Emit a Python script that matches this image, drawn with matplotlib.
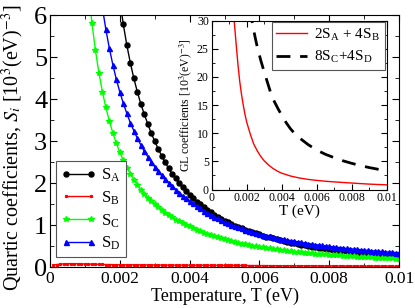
import numpy as np
import matplotlib
matplotlib.use("Agg")
import matplotlib.pyplot as plt
from matplotlib.ticker import MultipleLocator, FixedLocator

plt.rcParams['font.family'] = ['Liberation Serif', 'DejaVu Serif']
plt.rcParams['mathtext.fontset'] = 'stix'

# Temperature grid of the main plot, in eV (step 0.0001 eV)
temp_b = np.arange(1, 101) * 1e-4
temp_a = np.arange(20, 101) * 1e-4
temp_c = np.arange(11, 101) * 1e-4
temp_d = np.arange(15, 101) * 1e-4

# Quartic coefficients, in 10^3 (eV)^-3
s_a = [6.35, 5.78, 5.29, 4.87, 4.50, 4.18, 3.89, 3.64, 3.41, 3.19,
       3.00, 2.81, 2.65, 2.49, 2.35, 2.22, 2.11, 2.00, 1.90, 1.80,
       1.72, 1.64, 1.56, 1.49, 1.42, 1.363, 1.305, 1.251, 1.200, 1.153,
       1.108, 1.066, 1.026, 0.988, 0.953, 0.919, 0.887, 0.857, 0.828, 0.801,
       0.775, 0.750, 0.727, 0.704, 0.683, 0.663, 0.641, 0.621, 0.601, 0.582,
       0.565, 0.548, 0.531, 0.515, 0.500, 0.486, 0.472, 0.459, 0.446, 0.434,
       0.422, 0.411, 0.400, 0.390, 0.380, 0.370, 0.361, 0.352, 0.343, 0.335,
       0.327, 0.319, 0.312, 0.305, 0.298, 0.291, 0.284, 0.278, 0.272, 0.266,
       0.260]

s_b = [0.050, 0.060, 0.070, 0.075, 0.080, 0.080, 0.080, 0.078, 0.075, 0.072,
       0.070, 0.068, 0.066, 0.064, 0.062, 0.060, 0.058, 0.056, 0.055, 0.054,
       0.053, 0.053, 0.052, 0.052, 0.051, 0.051, 0.050, 0.050, 0.049, 0.049,
       0.048, 0.048, 0.047, 0.047, 0.046, 0.046, 0.046, 0.045, 0.045, 0.045,
       0.044, 0.044, 0.043, 0.043, 0.042, 0.042, 0.041, 0.041, 0.040, 0.040,
       0.039, 0.039, 0.038, 0.038, 0.037, 0.037, 0.036, 0.036, 0.035, 0.035,
       0.034, 0.034, 0.033, 0.033, 0.032, 0.032, 0.031, 0.031, 0.030, 0.030,
       0.030, 0.029, 0.029, 0.029, 0.028, 0.028, 0.028, 0.027, 0.027, 0.027,
       0.026, 0.026, 0.026, 0.025, 0.025, 0.025, 0.024, 0.024, 0.024, 0.023,
       0.023, 0.023, 0.022, 0.022, 0.022, 0.021, 0.021, 0.021, 0.020, 0.020]

s_c = [6.62, 5.82, 5.17, 4.63, 4.18, 3.80, 3.48, 3.19, 2.95, 2.73,
       2.54, 2.37, 2.22, 2.08, 1.96, 1.84, 1.74, 1.65, 1.57, 1.49,
       1.42, 1.35, 1.29, 1.23, 1.18, 1.13, 1.09, 1.04, 1.00, 0.966,
       0.926, 0.888, 0.853, 0.820, 0.789, 0.760, 0.732, 0.706, 0.681, 0.658,
       0.636, 0.615, 0.595, 0.577, 0.559, 0.542, 0.525, 0.510, 0.495, 0.481,
       0.467, 0.455, 0.442, 0.430, 0.419, 0.408, 0.398, 0.388, 0.378, 0.369,
       0.360, 0.351, 0.343, 0.335, 0.328, 0.320, 0.313, 0.306, 0.300, 0.293,
       0.287, 0.281, 0.275, 0.270, 0.264, 0.259, 0.254, 0.249, 0.244, 0.239,
       0.235, 0.231, 0.226, 0.222, 0.218, 0.214, 0.210, 0.207, 0.203, 0.200]

s_d = [6.18, 5.66, 5.21, 4.82, 4.47, 4.17, 3.90, 3.66, 3.44, 3.25,
       3.07, 2.91, 2.76, 2.63, 2.51, 2.39, 2.28, 2.18, 2.09, 2.00,
       1.92, 1.84, 1.77, 1.70, 1.64, 1.58, 1.515, 1.454, 1.397, 1.344,
       1.294, 1.246, 1.201, 1.159, 1.119, 1.081, 1.045, 1.012, 0.979, 0.949,
       0.919, 0.892, 0.865, 0.840, 0.816, 0.793, 0.772, 0.751, 0.731, 0.712,
       0.694, 0.677, 0.660, 0.644, 0.629, 0.614, 0.600, 0.586, 0.573, 0.560,
       0.548, 0.536, 0.524, 0.513, 0.502, 0.492, 0.482, 0.472, 0.463, 0.454,
       0.445, 0.436, 0.428, 0.420, 0.412, 0.405, 0.397, 0.390, 0.383, 0.376,
       0.370, 0.363, 0.357, 0.351, 0.345, 0.340]

# Inset: GL coefficients, 10^3 (eV)^-3
temp_ab = [0.00125, 0.0013, 0.0014, 0.0015, 0.0016, 0.0017, 0.0018, 0.0019, 0.0020,
           0.0022, 0.0024, 0.0026, 0.0028, 0.0030, 0.00325, 0.0035, 0.00375, 0.0040,
           0.0045, 0.0050, 0.0055, 0.0060, 0.0065, 0.0070, 0.0075, 0.0080, 0.0085,
           0.0090, 0.0095, 0.0100]
gl_ab = [32.0, 29.5, 25.8, 22.3, 19.3, 17.0, 15.1, 13.4, 12.0,
         9.9, 8.1, 6.9, 5.9, 5.1, 4.35, 3.75, 3.27, 2.90,
         2.40, 2.05, 1.80, 1.62, 1.47, 1.35, 1.25, 1.15, 1.05,
         0.96, 0.89, 0.83]

temp_cd = [0.0022, 0.0023, 0.0024, 0.0025, 0.0026, 0.0028, 0.0030, 0.0032, 0.0034,
           0.0036, 0.0038, 0.0040, 0.00425, 0.0045, 0.00475, 0.0050, 0.0055, 0.0060,
           0.0065, 0.0070, 0.0075, 0.0080, 0.0085, 0.0090, 0.0095, 0.0100]
gl_cd = [32.0, 30.0, 28.3, 26.8, 25.4, 23.0, 20.9, 18.9, 16.9,
         15.5, 14.3, 13.2, 11.9, 10.8, 9.9, 9.2, 8.0, 7.0,
         6.25, 5.65, 5.1, 4.65, 4.25, 3.9, 3.6, 3.3]

x_ticks = [0, 0.002, 0.004, 0.006, 0.008, 0.01]
x_tick_labels = ['0', '0.002', '0.004', '0.006', '0.008', '0.01']

fig = plt.figure(figsize=(4.15, 3.08), dpi=100)
ax = fig.add_axes([0.1205, 0.133, 0.841, 0.818])

ax.plot(temp_a, s_a, '-o', color='black', lw=1, ms=3.6, label='$\\mathregular{S_A}$')
ax.plot(temp_b, s_b, '-s', color='red', lw=1, ms=1.3, label='$\\mathregular{S_B}$')
ax.plot(temp_c, s_c, '-*', color='#00ff00', lw=1, ms=4.2, label='$\\mathregular{S_C}$')
ax.plot(temp_d, s_d, '-^', color='blue', lw=1, ms=3.6, label='$\\mathregular{S_D}$')

ax.set_xlim(0, 0.01)
ax.set_ylim(0, 6)
ax.xaxis.set_major_locator(FixedLocator(x_ticks))
ax.set_xticklabels(x_tick_labels)
ax.xaxis.set_minor_locator(MultipleLocator(0.001))
ax.yaxis.set_major_locator(MultipleLocator(1))
ax.yaxis.set_minor_locator(MultipleLocator(0.5))
ax.tick_params(which='both', direction='in', top=True, right=True)
ax.tick_params(which='major', length=5, pad=3)
ax.tick_params(which='minor', length=3)
ax.tick_params(axis='x', labelsize=12.5)
ax.tick_params(axis='y', labelsize=19, pad=2)

ax.set_xlabel('Temperature, T (eV)', fontsize=13, labelpad=0)
ax.set_ylabel('Quartic coefficients, $S_i$ [10$^3$(eV)$^{-3}$]', fontsize=14.5)
ax.yaxis.set_label_coords(-0.07, 0.475)

leg = ax.legend(loc='lower left', bbox_to_anchor=(0.018, 0.038), fontsize=12,
                numpoints=2, handlelength=2.1, handletextpad=0.3, labelspacing=0.33,
                borderpad=0.3, borderaxespad=0, fancybox=False, edgecolor='#555555',
                framealpha=1)
leg.get_frame().set_linewidth(0.8)

# Inset
axi = fig.add_axes([0.510, 0.3847, 0.4217, 0.5487])
axi.plot(temp_ab, gl_ab, color='red', lw=1, label='2S$_\\mathregular{A}$ + 4S$_\\mathregular{B}$')
axi.plot(temp_cd, gl_cd, color='black', lw=2, dashes=(5, 3.5), label='8S$_\\mathregular{C}$+4S$_\\mathregular{D}$')
axi.set_xlim(0, 0.01)
axi.set_ylim(0, 30)
axi.xaxis.set_major_locator(FixedLocator(x_ticks))
axi.set_xticklabels(x_tick_labels)
axi.xaxis.set_minor_locator(MultipleLocator(0.001))
axi.yaxis.set_major_locator(MultipleLocator(5))
axi.yaxis.set_minor_locator(MultipleLocator(2.5))
axi.tick_params(which='both', direction='in', top=True, right=True, labelsize=8.5, pad=2)
axi.tick_params(which='major', length=4)
axi.tick_params(which='minor', length=2)
axi.set_xlabel('T (eV)', fontsize=11, labelpad=0)
axi.set_ylabel('GL coefficients [10$^3$(eV)$^{-3}$]', fontsize=8.5, labelpad=2)

legi = axi.legend(loc='upper right', bbox_to_anchor=(0.99, 0.99), fontsize=11,
                  handlelength=2.0, handletextpad=0.5, labelspacing=0.4,
                  borderpad=0.3, borderaxespad=0, fancybox=False, edgecolor='#555555',
                  framealpha=1)
legi.get_frame().set_linewidth(0.8)

fig.savefig('out.png', dpi=100)
